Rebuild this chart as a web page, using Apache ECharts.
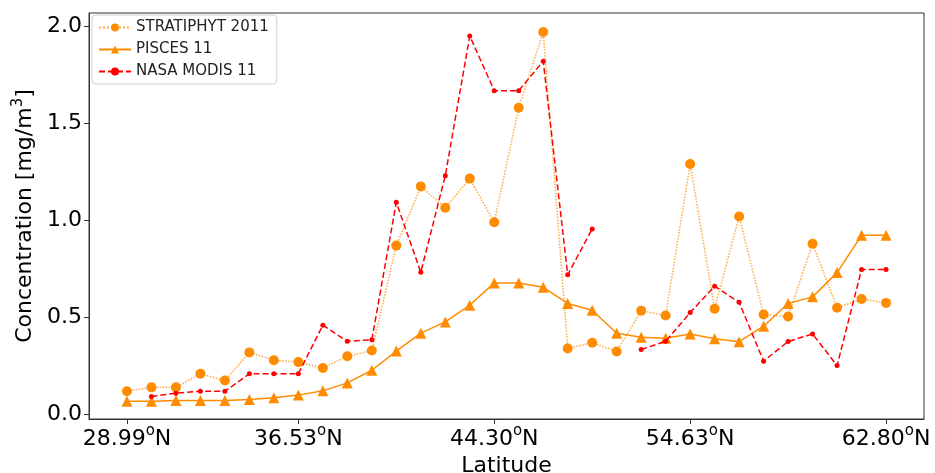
<!DOCTYPE html>
<html>
<head>
  <meta charset="UTF-8">
  <script src="https://cdn.jsdelivr.net/npm/echarts@6/dist/echarts.min.js"></script>
  <style>
    * { margin: 0; padding: 0; }
    body { background: #fff; }
    #chart { width: 935px; height: 473px; }
  </style>
</head>
<body>
  <div id="chart"></div>
  <script>
    // station index along the transect (0..31)
    const stationCount = 32;
    // tick positions and their latitude labels
    const tickIndex = [0, 7, 15, 23, 31];
    const tickLabels = ['28.99', '36.53', '44.30', '54.63', '62.80'];

    const stratiphyt = [0.12, 0.14, 0.14, 0.21, 0.175, 0.32, 0.28, 0.27, 0.24, 0.30, 0.33,
      0.87, 1.175, 1.065, 1.215, 0.99, 1.58, 1.97, 0.34, 0.37, 0.325, 0.535, 0.51, 1.29,
      0.545, 1.02, 0.515, 0.505, 0.88, 0.55, 0.595, 0.575];
    const pisces = [0.068, 0.068, 0.072, 0.072, 0.072, 0.077, 0.086, 0.10, 0.122, 0.163, 0.228,
      0.327, 0.419, 0.477, 0.563, 0.678, 0.678, 0.655, 0.572, 0.537, 0.419, 0.398, 0.393, 0.415,
      0.39, 0.375, 0.455, 0.572, 0.606, 0.731, 0.923, 0.923];
    const nasaModis = [null, 0.093, 0.11, 0.12, 0.12, 0.21, 0.21, 0.21, 0.46, 0.377, 0.385,
      1.093, 0.733, 1.23, 1.95, 1.668, 1.668, 1.82, 0.72, 0.956, null, 0.335, 0.377, 0.525,
      0.661, 0.578, 0.275, 0.376, 0.415, 0.252, 0.747, 0.747];

    function pairs(arr) {
      return arr.map((v, i) => [i, v === null ? '-' : v]);
    }

    const font = 'DejaVu Sans';
    const chart = echarts.init(document.getElementById('chart'));

    const option = {
      animation: false,
      textStyle: { fontFamily: font, color: '#000' },
      grid: {
        left: 89, top: 13, right: 11, bottom: 54,
        containLabel: false,
        outerBoundsMode: 'none',
        show: true, borderColor: '#333', borderWidth: 1, backgroundColor: '#fff'
      },
      legend: {
        orient: 'vertical',
        left: 92, top: 15,
        itemWidth: 32, itemHeight: 10, itemGap: 7,
        padding: [5, 8, 5, 6],
        backgroundColor: '#fff',
        borderColor: '#d0d0d0', borderWidth: 1, borderRadius: 4,
        textStyle: { fontFamily: font, fontSize: 15, color: '#222' },
        data: ['STRATIPHYT 2011', 'PISCES 11', 'NASA MODIS 11']
      },
      xAxis: {
        type: 'value',
        min: -1.55, max: 32.55,
        name: 'Latitude',
        nameLocation: 'middle',
        nameGap: 33,
        nameTextStyle: { fontFamily: font, fontSize: 22, color: '#000' },
        splitLine: { show: false },
        axisLine: { show: true, onZero: false, lineStyle: { color: '#333', width: 1 } },
        axisTick: { show: true, length: 5, customValues: tickIndex, lineStyle: { color: '#333' } },
        axisLabel: {
          margin: 5,
          customValues: tickIndex,
          formatter: function (v) {
            const k = tickIndex.indexOf(Math.round(v));
            return k < 0 ? '' : tickLabels[k] + '{sup|o}N';
          },
          fontFamily: font, fontSize: 22, color: '#000',
          rich: {
            sup: { fontFamily: font, fontSize: 15, color: '#000', padding: [0, 0, 16, 0] }
          }
        }
      },
      yAxis: {
        type: 'value',
        min: -0.023, max: 2.068,
        name: 'Concentration [mg/m{sup|3}]',
        nameLocation: 'middle',
        nameGap: 48,
        nameTextStyle: {
          fontFamily: font, fontSize: 22, color: '#000',
          rich: { sup: { fontFamily: font, fontSize: 15, color: '#000', padding: [0, 0, 14, 0] } }
        },
        splitLine: { show: false },
        axisLine: { show: true, onZero: false, lineStyle: { color: '#333', width: 1 } },
        axisTick: { show: true, length: 5, customValues: [0, 0.5, 1, 1.5, 2], lineStyle: { color: '#333' } },
        axisLabel: {
          margin: 7,
          customValues: [0, 0.5, 1, 1.5, 2],
          formatter: v => v.toFixed(1),
          fontFamily: font, fontSize: 22, color: '#000'
        }
      },
      series: [
        {
          name: 'STRATIPHYT 2011',
          type: 'line',
          data: pairs(stratiphyt),
          symbol: 'circle', symbolSize: 10,
          lineStyle: { color: '#ff8c00', width: 1.5, type: 'dotted', opacity: 0.75 },
          itemStyle: { color: '#ff8c00' },
          z: 3
        },
        {
          name: 'PISCES 11',
          type: 'line',
          data: pairs(pisces),
          symbol: 'triangle', symbolSize: 11,
          lineStyle: { color: '#ff8c00', width: 1.5, type: 'solid' },
          itemStyle: { color: '#ff8c00' },
          z: 2
        },
        {
          name: 'NASA MODIS 11',
          type: 'line',
          data: pairs(nasaModis),
          connectNulls: false,
          symbol: 'circle', symbolSize: 5,
          lineStyle: { color: '#ff0000', width: 1.5, type: [6, 3] },
          itemStyle: { color: '#ff0000' },
          z: 4
        }
      ]
    };

    chart.setOption(option);
  </script>
</body>
</html>
